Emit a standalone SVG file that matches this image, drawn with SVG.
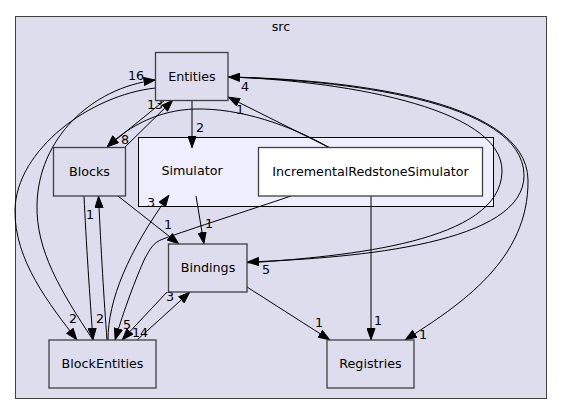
<svg xmlns="http://www.w3.org/2000/svg" width="563" height="415" viewBox="0 0 563 415">
<style>
.lbl{font-family:"DejaVu Sans","Liberation Sans",sans-serif;font-size:12.7px;fill:#000;text-anchor:middle}
.node{fill:#ddddee;stroke:#404040;stroke-width:1.3}
.e{fill:none;stroke:#000;stroke-width:1;marker-end:url(#ah)}
</style>
<defs>
<marker id="ah" viewBox="0 0 12 9" refX="12" refY="4.5" markerWidth="12" markerHeight="9" markerUnits="userSpaceOnUse" orient="auto">
<path d="M0.5,0.5 L11.5,4.5 L0.5,8.5 z" fill="#000" stroke="#000" stroke-width="1"/>
</marker>
</defs>
<rect width="563" height="415" fill="#fff"/>
<g id="cluster_src">
<rect x="15.5" y="16.5" width="531" height="382" fill="#ddddee" stroke="#404040" stroke-width="1"/>
<text class="lbl" x="281" y="31">src</text>
</g>
<g id="cluster_Simulator">
<rect x="138.5" y="137.5" width="355" height="69" fill="#eeeeff" stroke="#000" stroke-width="1"/>
<text class="lbl" x="192" y="175">Simulator</text>
</g>
<g id="connectors">
<path class="e" d="M192,100 L192,148"/>
<path class="e" d="M196,196 L204,244"/>
<path class="e" d="M330,148 L228,97"/>
<path class="e" d="M371,196 L371,340"/>
<path class="e" d="M291,196 C250,210 190,229 163,239 C152,243 150,250 145,258 C135,280 124,310 115,340"/>
<path class="e" d="M118,196 L179,244"/>
<path class="e" d="M108,340 C108,300 128,252 169,195"/>
<path class="e" d="M84,196 C86,240 90,300 93,340"/>
<path class="e" d="M107,340 C104,300 101,250 98.5,196"/>
<path class="e" d="M93,340 C60,290 36,250 37,205 C38,140 90,88 155.5,80"/>
<path class="e" d="M155.5,88 C90,95 16,150 15,210 C14,260 50,305 77,340"/>
<path class="e" d="M125,147 L173,100"/>
<path class="e" d="M165,100 L107,147"/>
<path class="e" d="M330,148 C290,125 240,108 195,109 C160,110 130,125 107,147"/>
<path class="e" d="M247,263 C350,256 500,242 502,172 C504,105 330,80 228,77"/>
<path class="e" d="M228,77 C340,80 523,100 524,175 C525,243 360,258 247,262"/>
<path class="e" d="M228,77 C340,79 527,98 528,180 C529,260 460,305 405,340"/>
<path class="e" d="M247,287 L330,340"/>
<path class="e" d="M137,340 L190,292"/>
<path class="e" d="M167,292 L122,340"/>
<text class="lbl" x="200" y="132">2</text>
<text class="lbl" x="209" y="228">1</text>
<text class="lbl" x="240" y="114">1</text>
<text class="lbl" x="378" y="325">1</text>
<text class="lbl" x="127" y="329">5</text>
<text class="lbl" x="168" y="229">1</text>
<text class="lbl" x="151" y="207">3</text>
<text class="lbl" x="100" y="323">2</text>
<text class="lbl" x="90" y="219">1</text>
<text class="lbl" x="136" y="80">16</text>
<text class="lbl" x="73" y="323">2</text>
<text class="lbl" x="155" y="109">13</text>
<text class="lbl" x="125" y="144">8</text>
<text class="lbl" x="245" y="91">4</text>
<text class="lbl" x="266" y="274">5</text>
<text class="lbl" x="423" y="339">1</text>
<text class="lbl" x="319" y="327">1</text>
<text class="lbl" x="170" y="301">3</text>
<text class="lbl" x="140" y="337">14</text>
</g>
<g id="node_Entities">
<rect class="node" x="155.5" y="52.5" width="72.5" height="48"/>
<text class="lbl" x="192" y="81">Entities</text>
</g>
<g id="node_Blocks">
<rect class="node" x="53.5" y="147.5" width="72" height="48.5"/>
<text class="lbl" x="89.5" y="176">Blocks</text>
</g>
<g id="node_IncrementalRedstoneSimulator">
<rect x="258.5" y="147.5" width="224" height="48.5" fill="#fff" stroke="#404040" stroke-width="1.3"/>
<text class="lbl" x="370.5" y="176">IncrementalRedstoneSimulator</text>
</g>
<g id="node_Bindings">
<rect class="node" x="168.5" y="244" width="78.5" height="48"/>
<text class="lbl" x="208" y="272">Bindings</text>
</g>
<g id="node_BlockEntities">
<rect class="node" x="49" y="340" width="107" height="48"/>
<text class="lbl" x="102.5" y="368">BlockEntities</text>
</g>
<g id="node_Registries">
<rect class="node" x="327" y="340" width="87" height="48"/>
<text class="lbl" x="370.5" y="368">Registries</text>
</g>
</svg>
